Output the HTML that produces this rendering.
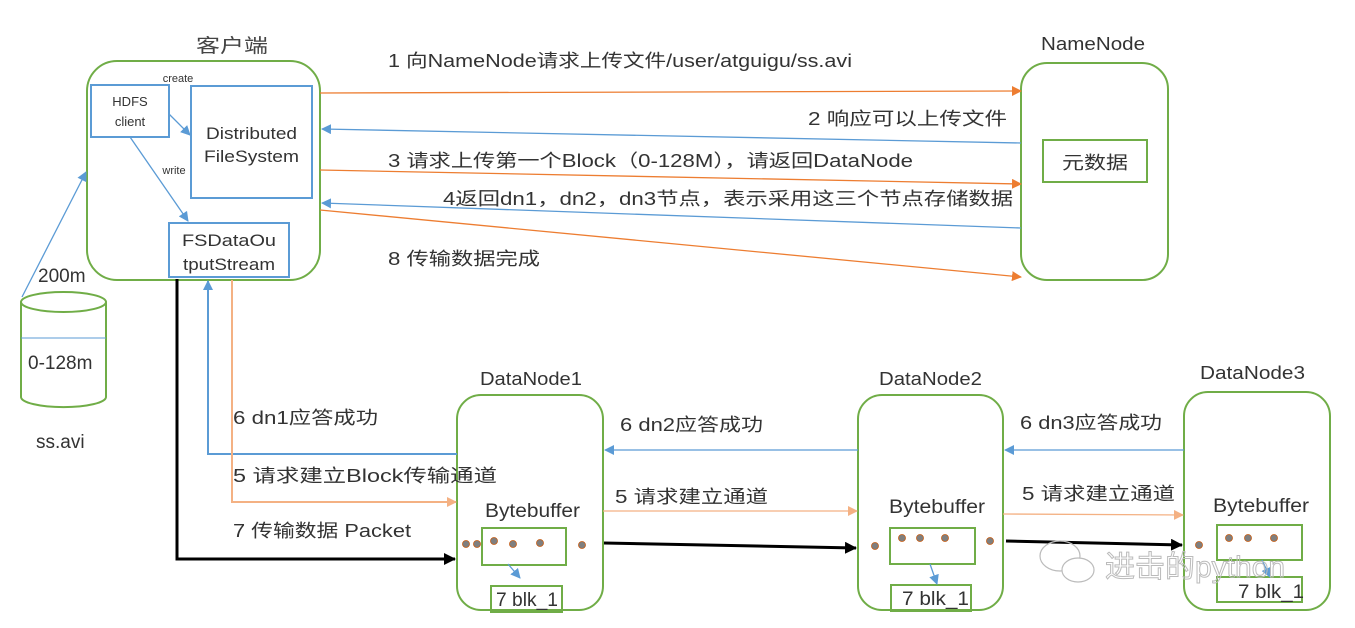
<!DOCTYPE html>
<html><head><meta charset="utf-8"><style>
html,body{margin:0;padding:0;background:#fff;width:1355px;height:628px;overflow:hidden}
text{font-family:"Liberation Sans","Noto Sans CJK SC",sans-serif;fill:#333}
</style></head><body>
<svg width="1355" height="628" viewBox="0 0 1355 628" xmlns="http://www.w3.org/2000/svg">
<defs>
<marker id="ao" markerWidth="10" markerHeight="10" refX="9" refY="5" orient="auto" markerUnits="userSpaceOnUse"><path d="M0,0 L10,5 L0,10 z" fill="#ed7d31"/></marker>
<marker id="al" markerWidth="10" markerHeight="10" refX="9" refY="5" orient="auto" markerUnits="userSpaceOnUse"><path d="M0,0 L10,5 L0,10 z" fill="#f4b183"/></marker>
<marker id="ab" markerWidth="10" markerHeight="10" refX="9" refY="5" orient="auto" markerUnits="userSpaceOnUse"><path d="M0,0 L10,5 L0,10 z" fill="#5b9bd5"/></marker>
<marker id="ak" markerWidth="12" markerHeight="12" refX="11" refY="6" orient="auto" markerUnits="userSpaceOnUse"><path d="M0,0 L12,6 L0,12 z" fill="#000"/></marker>
</defs>
<g fill="none" stroke="#70ad47" stroke-width="2">
<rect x="87" y="61" width="233" height="219" rx="30"/>
<rect x="1021" y="63" width="147" height="217" rx="26"/>
<rect x="1043" y="140" width="104" height="42"/>
<rect x="457" y="395" width="146" height="215" rx="24"/>
<rect x="858" y="395" width="145" height="215" rx="24"/>
<rect x="1184" y="392" width="146" height="218" rx="24"/>
<rect x="482" y="528" width="84" height="37"/>
<rect x="491" y="586" width="71" height="26"/>
<rect x="890" y="528" width="85" height="36"/>
<rect x="891" y="585" width="80" height="26"/>
<rect x="1217" y="525" width="85" height="35"/>
<rect x="1217" y="577" width="85" height="25"/>
<path d="M21,302 v95 a42,10 0 0 0 85,0 v-95"/>
<ellipse cx="63.5" cy="302" rx="42.5" ry="10"/>
</g>
<line x1="21" y1="338" x2="106" y2="338" stroke="#5b9bd5" stroke-width="1"/>
<g fill="#fff" stroke="#5b9bd5" stroke-width="2">
<rect x="91" y="85" width="78" height="52"/>
<rect x="191" y="86" width="121" height="112"/>
<rect x="169" y="223" width="120" height="54"/>
</g>
<g stroke-width="1.3" fill="none">
<line x1="169" y1="114" x2="190" y2="135" stroke="#5b9bd5" marker-end="url(#ab)"/>
<line x1="130" y1="137" x2="188" y2="221" stroke="#5b9bd5" marker-end="url(#ab)"/>
<line x1="22" y1="297" x2="86" y2="172" stroke="#5b9bd5" marker-end="url(#ab)"/>
<line x1="320" y1="93" x2="1021" y2="91" stroke="#ed7d31" marker-end="url(#ao)"/>
<line x1="1021" y1="143" x2="322" y2="129" stroke="#5b9bd5" marker-end="url(#ab)"/>
<line x1="320" y1="170" x2="1021" y2="184" stroke="#ed7d31" marker-end="url(#ao)"/>
<line x1="1021" y1="228" x2="322" y2="203" stroke="#5b9bd5" marker-end="url(#ab)"/>
<line x1="320" y1="210" x2="1021" y2="277" stroke="#ed7d31" marker-end="url(#ao)"/>
<polyline points="457,454 208,454 208,281" stroke="#5b9bd5" stroke-width="2" marker-end="url(#ab)"/>
<polyline points="232,280 232,502 456,502" stroke="#f4b183" stroke-width="2" marker-end="url(#al)"/>
<line x1="858" y1="450" x2="605" y2="450" stroke="#5b9bd5" marker-end="url(#ab)"/>
<line x1="603" y1="511" x2="857" y2="511" stroke="#f4b183" marker-end="url(#al)"/>
<line x1="1184" y1="450" x2="1005" y2="450" stroke="#5b9bd5" marker-end="url(#ab)"/>
<line x1="1003" y1="514" x2="1183" y2="515" stroke="#f4b183" marker-end="url(#al)"/>
<line x1="508" y1="564" x2="520" y2="578" stroke="#5b9bd5" marker-end="url(#ab)"/>
<line x1="930" y1="564" x2="937" y2="584" stroke="#5b9bd5" marker-end="url(#ab)"/>
<line x1="1262" y1="560" x2="1270" y2="577" stroke="#5b9bd5" marker-end="url(#ab)"/>
</g>
<g stroke="#000" stroke-width="3" fill="none">
<polyline points="177,279 177,559 455,559" marker-end="url(#ak)"/>
<line x1="604" y1="543" x2="856" y2="548" marker-end="url(#ak)"/>
<line x1="1006" y1="541" x2="1182" y2="545" marker-end="url(#ak)"/>
</g>
<g fill="#7f7f7f" stroke="#c55a11" stroke-width="0.8">
<circle cx="466" cy="544" r="3.5"/><circle cx="477" cy="544" r="3.5"/><circle cx="494" cy="541" r="3.5"/><circle cx="513" cy="544" r="3.5"/><circle cx="540" cy="543" r="3.5"/><circle cx="582" cy="545" r="3.5"/>
<circle cx="875" cy="546" r="3.5"/><circle cx="902" cy="538" r="3.5"/><circle cx="920" cy="538" r="3.5"/><circle cx="945" cy="538" r="3.5"/><circle cx="990" cy="541" r="3.5"/>
<circle cx="1199" cy="545" r="3.5"/><circle cx="1229" cy="538" r="3.5"/><circle cx="1248" cy="538" r="3.5"/><circle cx="1274" cy="538" r="3.5"/>
</g>
<g font-size="18" lengthAdjust="spacingAndGlyphs">
<text x="196" y="52" font-size="19" textLength="72" lengthAdjust="spacingAndGlyphs" style="fill:#444">客户端</text>
<text x="1041" y="50" textLength="104" lengthAdjust="spacingAndGlyphs">NameNode</text>
<text x="1062" y="169" textLength="66" lengthAdjust="spacingAndGlyphs">元数据</text>
<text x="130" y="106" text-anchor="middle" font-size="13">HDFS</text>
<text x="130" y="126" text-anchor="middle" font-size="13">client</text>
<text x="178" y="82" text-anchor="middle" font-size="11">create</text>
<text x="174" y="174" text-anchor="middle" font-size="11">write</text>
<text x="206" y="139" font-size="17" textLength="91" lengthAdjust="spacingAndGlyphs">Distributed</text>
<text x="204" y="162" font-size="17" textLength="95" lengthAdjust="spacingAndGlyphs">FileSystem</text>
<text x="182" y="246" font-size="17" textLength="94" lengthAdjust="spacingAndGlyphs">FSDataOu</text>
<text x="183" y="270" font-size="17" textLength="92" lengthAdjust="spacingAndGlyphs">tputStream</text>
<text x="388" y="67" textLength="464" lengthAdjust="spacingAndGlyphs">1 向NameNode请求上传文件/user/atguigu/ss.avi</text>
<text x="808" y="125" textLength="199" lengthAdjust="spacingAndGlyphs">2 响应可以上传文件</text>
<text x="388" y="167" textLength="525" lengthAdjust="spacingAndGlyphs">3 请求上传第一个Block（0-128M），请返回DataNode</text>
<text x="443" y="205" textLength="570" lengthAdjust="spacingAndGlyphs">4返回dn1，dn2，dn3节点，表示采用这三个节点存储数据</text>
<text x="388" y="265" textLength="152" lengthAdjust="spacingAndGlyphs">8 传输数据完成</text>
<text x="38" y="282" font-size="19">200m</text>
<text x="28" y="369" font-size="19">0-128m</text>
<text x="36" y="448" font-size="19">ss.avi</text>
<text x="233" y="424" textLength="145" lengthAdjust="spacingAndGlyphs">6 dn1应答成功</text>
<text x="233" y="482" textLength="264" lengthAdjust="spacingAndGlyphs">5 请求建立Block传输通道</text>
<text x="233" y="537" textLength="178" lengthAdjust="spacingAndGlyphs">7 传输数据  Packet</text>
<text x="480" y="385" textLength="102" lengthAdjust="spacingAndGlyphs">DataNode1</text>
<text x="879" y="385" textLength="103" lengthAdjust="spacingAndGlyphs">DataNode2</text>
<text x="1200" y="379" textLength="105" lengthAdjust="spacingAndGlyphs">DataNode3</text>
<text x="620" y="431" textLength="143" lengthAdjust="spacingAndGlyphs">6 dn2应答成功</text>
<text x="615" y="503" textLength="153" lengthAdjust="spacingAndGlyphs">5 请求建立通道</text>
<text x="1020" y="429" textLength="142" lengthAdjust="spacingAndGlyphs">6 dn3应答成功</text>
<text x="1022" y="500" textLength="153" lengthAdjust="spacingAndGlyphs">5 请求建立通道</text>
<text x="485" y="517" font-size="19" textLength="95" lengthAdjust="spacingAndGlyphs">Bytebuffer</text>
<text x="889" y="513" font-size="19" textLength="96" lengthAdjust="spacingAndGlyphs">Bytebuffer</text>
<text x="1213" y="512" font-size="19" textLength="96" lengthAdjust="spacingAndGlyphs">Bytebuffer</text>
<text x="496" y="606" font-size="19" textLength="62" lengthAdjust="spacingAndGlyphs">7 blk_1</text>
<text x="902" y="605" font-size="19" textLength="67" lengthAdjust="spacingAndGlyphs">7 blk_1</text>
<text x="1238" y="598" font-size="19" textLength="66" lengthAdjust="spacingAndGlyphs">7 blk_1</text>
<text x="1105" y="577" font-size="30" style="fill:none;stroke:#bbb;stroke-width:1">进击的python</text>
</g>
<g fill="none" stroke="#bbb" stroke-width="1.2">
<ellipse cx="1060" cy="556" rx="20" ry="15"/>
<ellipse cx="1078" cy="570" rx="16" ry="12" fill="#fff"/>
</g>
</svg>
</body></html>
